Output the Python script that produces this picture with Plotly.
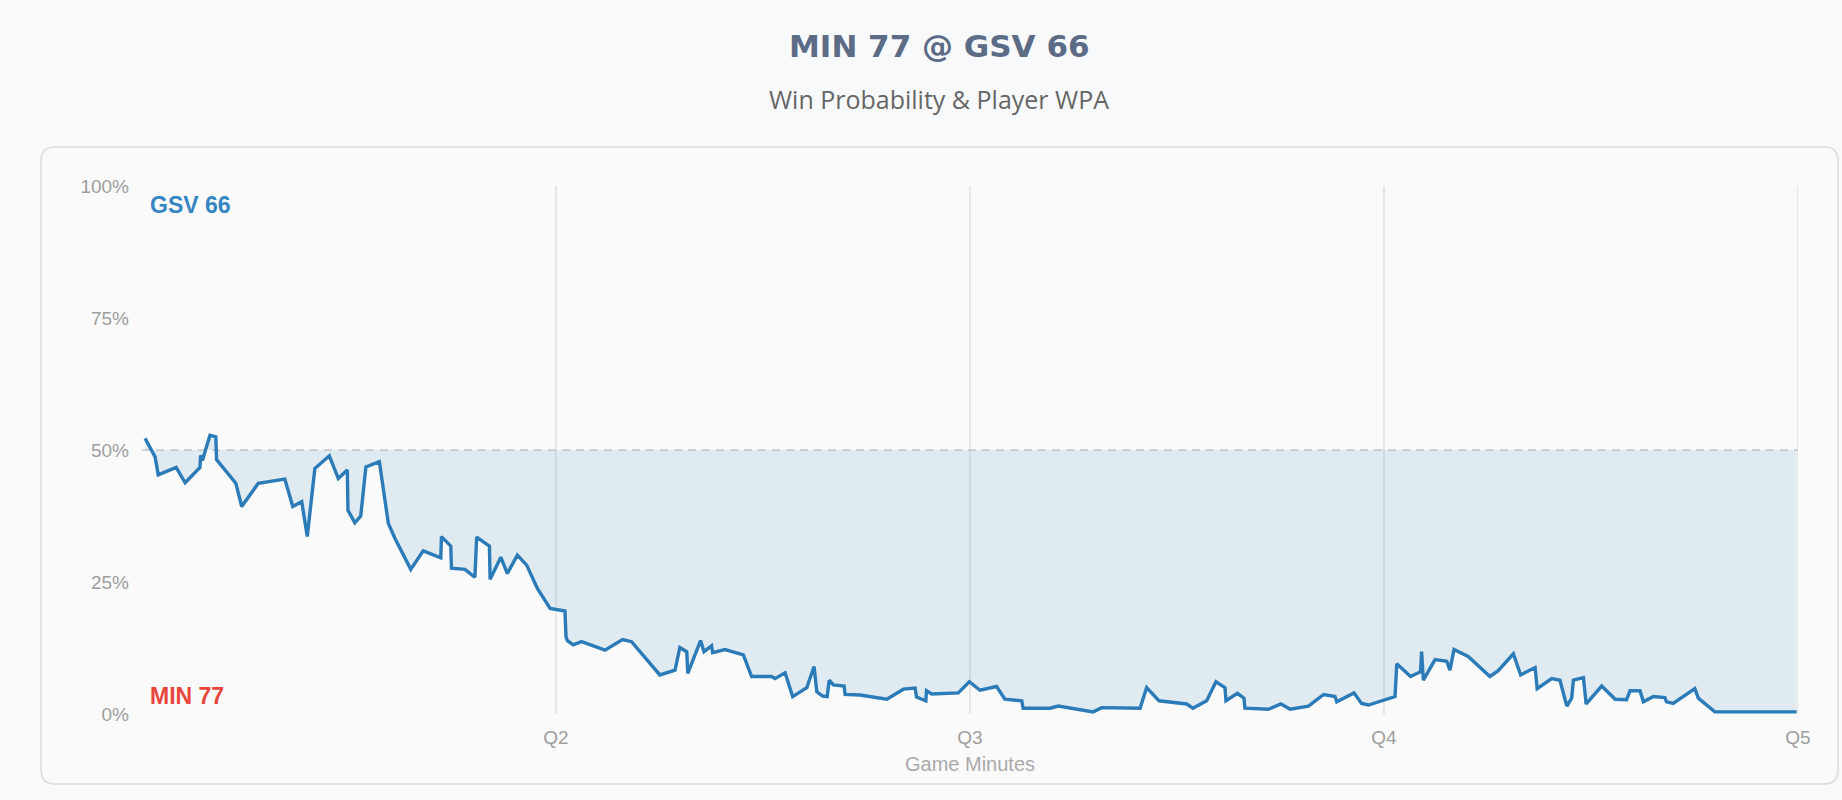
import plotly.graph_objects as go

# ---------------- data ----------------
minutes = [0.09, 0.38, 0.47, 0.99, 1.25, 1.68, 1.70, 1.75, 1.97, 2.14, 2.16, 2.72, 2.89, 3.37,
           4.14, 4.37, 4.63, 4.79, 5.01, 5.43, 5.69, 5.95, 5.97, 6.17, 6.34, 6.49, 6.88, 7.14,
           7.33, 7.79, 8.15, 8.66, 8.68, 8.95, 8.97, 9.36, 9.65, 9.70, 10.07, 10.09, 10.40,
           10.59, 10.88, 11.15, 11.46, 11.83, 12.26, 12.29, 12.33, 12.50, 12.74, 13.42, 13.93,
           14.19, 15.01, 15.45, 15.59, 15.79, 15.82, 16.19, 16.29, 16.51, 16.54, 16.90, 17.43,
           17.67, 18.25, 18.35, 18.64, 18.86, 19.27, 19.48, 19.56, 19.73, 19.86, 19.92, 20.04,
           20.35, 20.38, 20.81, 21.59, 22.07, 22.41, 22.45, 22.72, 22.74, 22.89, 23.66, 23.98,
           24.29, 24.77, 25.01, 25.50, 25.54, 26.32, 26.56, 27.57, 27.82, 28.93, 29.12, 29.48,
           30.28, 30.46, 30.86, 31.13, 31.39, 31.42, 31.75, 31.94, 31.97, 32.65, 33.01, 33.28,
           33.81, 34.25, 34.58, 34.63, 35.13, 35.35, 35.55, 36.32, 36.37, 36.77, 37.06, 37.09,
           37.14, 37.48, 37.82, 37.91, 38.03, 38.44, 39.07, 39.31, 39.75, 39.96, 40.38, 40.44,
           40.86, 41.10, 41.30, 41.44, 41.49, 41.78, 41.86, 42.31, 42.70, 43.03, 43.13, 43.42,
           43.52, 43.81, 44.14, 44.19, 44.38, 45.01, 45.11, 45.59, 47.96]

gsv_wp_pct = [52.2, 48.7, 45.3, 46.7, 43.8, 46.7, 49.0, 48.0, 52.8, 52.5, 48.2, 43.7, 39.3, 43.7,
              44.5, 39.3, 40.2, 33.6, 46.5, 48.9, 44.6, 46.2, 38.6, 36.2, 37.5, 46.8, 47.8, 36.1,
              33.3, 27.4, 30.9, 29.6, 33.6, 31.8, 27.6, 27.4, 25.9, 33.5, 31.8, 25.5, 29.7,
              26.6, 30.1, 28.2, 23.8, 20.0, 19.5, 14.6, 13.9, 13.1, 13.7, 12.1, 14.1,
              13.7, 7.4, 8.3, 12.6, 11.8, 7.7, 13.9, 11.8, 12.9, 11.6, 12.2, 11.2,
              7.1, 7.1, 6.7, 7.8, 3.3, 5.0, 9.0, 4.2, 3.4, 3.3, 6.4, 5.5,
              5.3, 3.7, 3.6, 2.8, 4.7, 4.9, 3.2, 2.5, 4.4, 3.8, 4.0, 6.1,
              4.5, 5.2, 2.8, 2.5, 1.1, 1.1, 1.5, 0.4, 1.2, 1.1, 5.0, 2.5,
              1.9, 1.1, 2.5, 6.1, 5.0, 2.5, 3.9, 3.0, 1.1, 0.9, 1.9, 0.9,
              1.5, 3.7, 3.3, 2.3, 4.0, 2.0, 1.7, 3.3, 9.5, 7.1, 8.0, 11.8,
              6.4, 10.3, 10.0, 8.3, 12.2, 10.9, 7.1, 8.2, 11.4, 7.4, 8.8, 4.8,
              6.7, 6.4, 1.5, 3.0, 6.4, 6.9, 1.9, 5.3, 2.8, 2.7, 4.4, 4.4,
              2.3, 3.3, 3.1, 2.3, 2.0, 4.8, 3.0, 0.4, 0.4]

quarter_minutes = [12, 24, 36, 48]
quarter_labels = ["Q2", "Q3", "Q4", "Q5"]
y_ticks = [0, 0.25, 0.5, 0.75, 1.0]

title_text = "MIN 77 @ GSV 66"
subtitle_text = "Win Probability & Player WPA"
home_label = "GSV 66"
away_label = "MIN 77"
x_title = "Game Minutes"

# ---------------- layout geometry (pixels) ----------------
W, H = 1842, 800
PL, PR, PT, PB = 142, 1798, 186, 714   # plot area


def px_x(px):
    return (px - PL) / (PR - PL)


def px_y(py):
    return (PB - py) / (PB - PT)


def rounded_rect(x0, y0, x1, y1, r):
    rx = r / (PR - PL)
    ry = r / (PB - PT)
    X0, X1 = px_x(x0), px_x(x1)
    YT, YB = px_y(y0), px_y(y1)
    return (f"M {X0+rx},{YT} L {X1-rx},{YT} Q {X1},{YT} {X1},{YT-ry} "
            f"L {X1},{YB+ry} Q {X1},{YB} {X1-rx},{YB} L {X0+rx},{YB} "
            f"Q {X0},{YB} {X0},{YB+ry} L {X0},{YT-ry} Q {X0},{YT} {X0+rx},{YT} Z")


wp = [v / 100 for v in gsv_wp_pct]
LINE = "#2b7bb9"

fig = go.Figure()
fig.add_trace(go.Scatter(x=minutes, y=[0.5] * len(minutes), mode="lines",
                         line=dict(width=0, color="rgba(0,0,0,0)"),
                         hoverinfo="skip", showlegend=False))
fig.add_trace(go.Scatter(x=minutes, y=wp, mode="lines", fill="tonexty",
                         fillcolor="rgba(43,123,185,0.12)",
                         line=dict(color=LINE, width=3.4), showlegend=False,
                         name=home_label))

shapes = [dict(type="path", xref="paper", yref="paper",
               path=rounded_rect(41, 147, 1838, 784, 14),
               line=dict(color="#dcdcdc", width=1.6), fillcolor="#fafafa", layer="below")]
for q in quarter_minutes:
    shapes.append(dict(type="line", xref="x", yref="y", x0=q, x1=q, y0=0, y1=1,
                       line=dict(color="#e2e2e2", width=1.6), layer="below"))
shapes.append(dict(type="line", xref="x", yref="y", x0=0, x1=48, y0=0.5, y1=0.5,
                   line=dict(color="#c9c9c9", width=1.6, dash="8px,6px"), layer="below"))

annotations = [
    dict(text=f"<b>{title_text}</b>", xref="paper", yref="paper", x=px_x(939), y=px_y(46),
         xanchor="center", yanchor="middle", showarrow=False,
         font=dict(family="DejaVu Sans", size=31, color="#5c6b86")),
    dict(text=subtitle_text, xref="paper", yref="paper", x=px_x(939), y=px_y(99),
         xanchor="center", yanchor="middle", showarrow=False,
         font=dict(family="Open Sans", size=25, color="#666666")),
    dict(text=f"<b>{home_label}</b>", xref="paper", yref="paper", x=px_x(148), y=px_y(205),
         xanchor="left", yanchor="middle", showarrow=False,
         font=dict(family="Liberation Sans", size=23, color="#3586c3")),
    dict(text=f"<b>{away_label}</b>", xref="paper", yref="paper", x=px_x(148), y=px_y(696),
         xanchor="left", yanchor="middle", showarrow=False,
         font=dict(family="Liberation Sans", size=23, color="#e8463c")),
]

fig.update_layout(
    width=W, height=H,
    margin=dict(l=PL, r=W - PR, t=PT, b=H - PB, pad=0),
    paper_bgcolor="#f8f9fb", plot_bgcolor="rgba(0,0,0,0)",
    shapes=shapes, annotations=annotations,
    font=dict(family="Liberation Sans", color="#9e9e9e"),
    xaxis=dict(range=[0, 48], tickvals=quarter_minutes, ticktext=quarter_labels,
               showgrid=False, zeroline=False, showline=False, ticks="",
               ticklabelstandoff=10, tickfont=dict(size=19, color="#9e9e9e"),
               title=dict(text=x_title, font=dict(size=20, color="#aaaaaa"), standoff=9),
               fixedrange=True),
    yaxis=dict(range=[0, 1], tickvals=y_ticks, tickformat=".0%",
               showgrid=False, zeroline=False, showline=False, ticks="",
               ticklabelstandoff=12, tickfont=dict(size=19, color="#9e9e9e"),
               fixedrange=True),
    hovermode=False,
)

fig.write_html("out.html", config={"displayModeBar": False},
               post_script="document.body.style.margin='0';")
